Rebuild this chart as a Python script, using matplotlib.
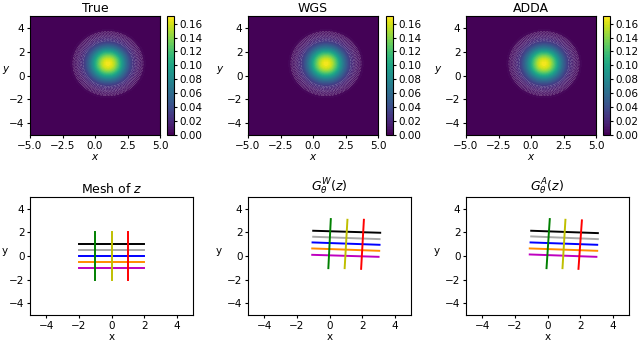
import numpy as np
import matplotlib
matplotlib.use("Agg")
from matplotlib import pyplot as plt

# density panels (all three look the same: gaussian bump at (1, 1))
titles_top = ["True", "WGS", "ADDA"]
center = [1.0, 1.0]
sigma = 0.97
peak = 0.168
cbar_ticks = [0.00, 0.02, 0.04, 0.06, 0.08, 0.10, 0.12, 0.14, 0.16]
ring_levels = [0.0035, 0.0045, 0.0055, 0.007, 0.0085, 0.010, 0.012, 0.015, 0.019, 0.024]

# mesh lines: colours and endpoints (x0, y0, x1, y1)
h_colors = ["k", "darkgrey", "b", "darkorange", "m"]
v_colors = ["g", "y", "r"]

mesh_h = [(-2, 1.0, 2, 1.0), (-2, 0.5, 2, 0.5), (-2, 0.0, 2, 0.0),
          (-2, -0.5, 2, -0.5), (-2, -1.0, 2, -1.0)]
mesh_v = [(-1, -2, -1, 2), (0, -2, 0, 2), (1, -2, 1, 2)]

gw_h = [(-1.0, 2.14, 3.11, 1.97), (-1.0, 1.63, 3.07, 1.43), (-1.04, 1.15, 3.07, 0.95),
        (-1.06, 0.64, 3.05, 0.44), (-1.06, 0.10, 3.01, -0.07)]
gw_v = [(-0.07, -1.03, 0.08, 3.13), (0.93, -1.03, 1.10, 3.07), (1.94, -1.09, 2.11, 3.07)]

ga_h = [(-1.0, 2.14, 3.09, 1.94), (-1.0, 1.66, 3.09, 1.43), (-1.04, 1.15, 3.05, 0.95),
        (-1.09, 0.64, 3.05, 0.44), (-1.09, 0.13, 3.00, -0.07)]
ga_v = [(-0.06, -1.03, 0.14, 3.13), (0.92, -1.03, 1.10, 3.07), (1.90, -1.09, 2.11, 3.02)]

titles_bot = ["Mesh of $z$", r"$G^W_\theta(z)$", r"$G^A_\theta(z)$"]
lines_bot = [(mesh_h, mesh_v), (gw_h, gw_v), (ga_h, ga_v)]

fs_tick = 7.5
fs_title = 9

fig = plt.figure(figsize=(6.4, 3.43), dpi=100)

xs = np.linspace(-5, 5, 300)
X, Y = np.meshgrid(xs, xs)
Z = peak * np.exp(-((X - center[0])**2 + (Y - center[1])**2) / (2 * sigma**2))
levels = np.linspace(0, 0.171, 80)

top_left = [30, 248, 466]
cb_left = [167, 386, 603]
ypad = [2, 5, 5]
for i in range(3):
    ax = fig.add_axes([top_left[i] / 640, 1 - 135 / 343, 130 / 640, 119 / 343])
    cf = ax.contourf(X, Y, Z, levels=levels, cmap="viridis")
    ax.contour(X, Y, Z, levels=ring_levels, colors="white",
               linewidths=0.4, alpha=0.65, linestyles=":")
    ax.set_xlim(-5, 5)
    ax.set_ylim(-5, 5)
    ax.set_xticks([-5.0, -2.5, 0.0, 2.5, 5.0])
    ax.set_yticks([-4, -2, 0, 2, 4])
    ax.tick_params(labelsize=fs_tick, length=2.5, pad=1.5)
    ax.set_title(titles_top[i], fontsize=fs_title, pad=3)
    ax.set_xlabel("$x$", fontsize=fs_tick, labelpad=1)
    ax.set_ylabel("$y$", fontsize=fs_tick, rotation=0, labelpad=ypad[i])
    cax = fig.add_axes([cb_left[i] / 640, 1 - 135 / 343, 7 / 640, 119 / 343])
    cb = fig.colorbar(cf, cax=cax, ticks=cbar_ticks)
    cb.ax.tick_params(labelsize=fs_tick, length=2.5, pad=1.5)
    cb.ax.set_yticklabels(["%.2f" % t for t in cbar_ticks])

bot_left = [30, 248, 466]
for i in range(3):
    ax = fig.add_axes([bot_left[i] / 640, 1 - 315 / 343, 163 / 640, 118 / 343])
    hl, vl = lines_bot[i]
    for seg, c in zip(hl, h_colors):
        ax.plot([seg[0], seg[2]], [seg[1], seg[3]], color=c, lw=1.4)
    for seg, c in zip(vl, v_colors):
        ax.plot([seg[0], seg[2]], [seg[1], seg[3]], color=c, lw=1.4)
    ax.set_xlim(-5, 5)
    ax.set_ylim(-5, 5)
    ax.set_xticks([-4, -2, 0, 2, 4])
    ax.set_yticks([-4, -2, 0, 2, 4])
    ax.tick_params(labelsize=fs_tick, length=2.5, pad=1.5)
    ax.set_title(titles_bot[i], fontsize=fs_title, pad=3)
    ax.set_xlabel("x", fontsize=fs_tick, labelpad=1)
    ax.set_ylabel("y", fontsize=fs_tick, rotation=0, labelpad=ypad[i] + 1)

fig.savefig("out.png", dpi=100)
